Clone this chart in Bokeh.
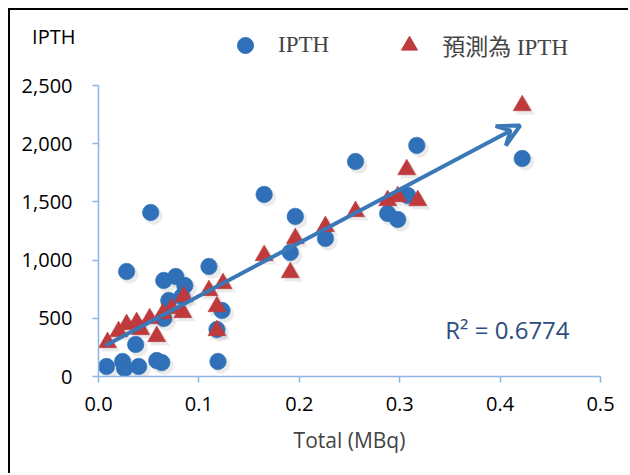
from bokeh.plotting import figure
from bokeh.layouts import column
from bokeh.models import (ColumnDataSource, Legend, LegendItem, Label, Arrow, VeeHead,
                          FixedTicker, NumeralTickFormatter, Range1d)
from bokeh.transform import dodge
from bokeh.embed import file_html
from bokeh.resources import INLINE

# ---- data ----
ipth_x = [0.052, 0.028, 0.110, 0.065, 0.077, 0.086, 0.070, 0.083, 0.123, 0.118,
          0.065, 0.037, 0.008, 0.024, 0.026, 0.040, 0.058, 0.063, 0.119,
          0.165, 0.196, 0.256, 0.191, 0.226, 0.288, 0.298, 0.308, 0.317, 0.422]
ipth_y = [1409, 902, 945, 825, 859, 782, 653, 687, 567, 404,
          498, 275, 86, 129, 69, 86, 137, 120, 129,
          1564, 1375, 1847, 1065, 1186, 1400, 1349, 1555, 1985, 1873]

pred_x = [0.009, 0.020, 0.028, 0.038, 0.042, 0.051, 0.058, 0.064, 0.073, 0.084,
          0.085, 0.110, 0.124, 0.118, 0.118,
          0.165, 0.191, 0.196, 0.226, 0.256, 0.288, 0.298, 0.307, 0.318, 0.422]
pred_y = [292, 386, 447, 464, 404, 498, 344, 541, 584, 550,
          687, 739, 799, 601, 395,
          1040, 893, 1186, 1289, 1418, 1512, 1546, 1778, 1512, 2328]

trend_x = [0.007, 0.420]
trend_y = [266, 2156]

x_ticks = [0.0, 0.1, 0.2, 0.3, 0.4, 0.5]
y_ticks = [0, 500, 1000, 1500, 2000, 2500]
series_names = ["IPTH", "預測為 IPTH"]
y_title = "IPTH"
x_title = "Total (MBq)"
r2_text = "R² = 0.6774"

BLUE = "#2F70B8"
RED = "#BE3A3C"
ARROW = "#3A78B8"
AXIS = "#8DB4E2"
SANS = "Open Sans"
SERIF = "'Liberation Serif', 'Noto Sans CJK TC', serif"
W = 620
TOP_H = 62

src_a = ColumnDataSource(dict(x=ipth_x, y=ipth_y))
src_b = ColumnDataSource(dict(x=pred_x, y=pred_y))

# ---------- header strip: y-title and legend ----------
# its ranges keep the (shared) data out of view; only the legend shows the markers
ph = figure(width=W, height=TOP_H, output_backend="svg", toolbar_location=None,
            x_range=Range1d(10, 11), y_range=Range1d(TOP_H, 0),
            x_axis_type=None, min_border=0, margin=(8, 0, 0, 8))
ph.styles = {"border-left": "2px solid #000", "border-top": "2px solid #000"}
ph.outline_line_color = None
ph.grid.visible = False
lg_a = ph.scatter("x", "y", source=src_a, marker="circle", fill_color=BLUE, line_color=BLUE)
lg_b = ph.scatter("x", "y", source=src_b, marker="triangle", fill_color=RED, line_color=RED)

hy = ph.yaxis[0]
hy.ticker = FixedTicker(ticks=[26])
hy.major_label_overrides = {26: y_title}
hy.axis_line_color = None
hy.major_tick_line_color = None
hy.minor_tick_line_color = None
hy.major_tick_out = 0
hy.major_tick_in = 0
hy.major_label_standoff = 23
hy.major_label_text_font = SANS
hy.major_label_text_font_size = "20px"
hy.major_label_text_color = "#000000"

legend = Legend(items=[LegendItem(label=series_names[0], renderers=[lg_a]),
                       LegendItem(label=series_names[1], renderers=[lg_b])],
                location=(127, 7), orientation="horizontal",
                label_text_font=SERIF, label_text_font_size="23px",
                glyph_width=40, glyph_height=40,
                label_standoff=13, spacing=60, padding=0, margin=0,
                border_line_color=None, background_fill_alpha=0)
ph.add_layout(legend)

# ---------- main chart ----------
p = figure(width=W, height=475 - 10 - TOP_H, output_backend="svg", toolbar_location=None,
           x_range=Range1d(0, 0.5), y_range=Range1d(0, 2500),
           min_border_left=88, min_border_right=30, min_border_top=15, min_border_bottom=97,
           margin=(0, 0, 0, 8))
p.styles = {"border-left": "2px solid #000"}
p.outline_line_color = None
p.grid.visible = False

# soft drop shadows (Excel-style), then the markers
p.scatter(dodge("x", 0.003, range=p.x_range), dodge("y", -28, range=p.y_range), source=src_a,
          marker="circle", size=18, fill_color="#808080", fill_alpha=0.16, line_color=None)
p.scatter(dodge("x", 0.003, range=p.x_range), dodge("y", -28, range=p.y_range), source=src_b,
          marker="triangle", size=20, fill_color="#808080", fill_alpha=0.16, line_color=None)
p.scatter("x", "y", source=src_a, marker="circle", size=16.5,
          fill_color=BLUE, line_color=BLUE, line_alpha=0.6)
p.scatter("x", "y", source=src_b, marker="triangle", size=18,
          fill_color=RED, line_color=RED, line_alpha=0.6)

p.add_layout(Arrow(x_start=trend_x[0], y_start=trend_y[0], x_end=trend_x[1], y_end=trend_y[1],
                   line_color=ARROW, line_width=4,
                   end=VeeHead(size=22, line_color=ARROW, line_width=4, fill_color=None)))

for ax in (p.xaxis[0], p.yaxis[0]):
    ax.axis_line_color = AXIS
    ax.axis_line_width = 1.5
    ax.major_tick_line_color = AXIS
    ax.major_tick_line_width = 1.5
    ax.major_tick_out = 6
    ax.major_tick_in = 0
    ax.minor_tick_line_color = None
    ax.major_label_text_font = SANS
    ax.major_label_text_font_size = "20px"
    ax.major_label_text_color = "#000000"

p.xaxis.ticker = FixedTicker(ticks=x_ticks)
p.xaxis.formatter = NumeralTickFormatter(format="0.0")
p.xaxis.major_label_standoff = 14
p.xaxis.axis_label = x_title
p.xaxis.axis_label_text_font = SANS
p.xaxis.axis_label_text_font_size = "21px"
p.xaxis.axis_label_text_font_style = "normal"
p.xaxis.axis_label_standoff = 12

p.yaxis.ticker = FixedTicker(ticks=y_ticks)
p.yaxis.formatter = NumeralTickFormatter(format="0,0")
p.yaxis.major_label_standoff = 20

p.add_layout(Label(x=0.2, y=404, text=r2_text, x_offset=146,
                   text_font=SANS, text_font_size="24px", text_baseline="middle",
                   text_color="#2B4C7E"))

layout = column(ph, p, spacing=0)
open("out.html", "w").write(file_html(layout, INLINE))
